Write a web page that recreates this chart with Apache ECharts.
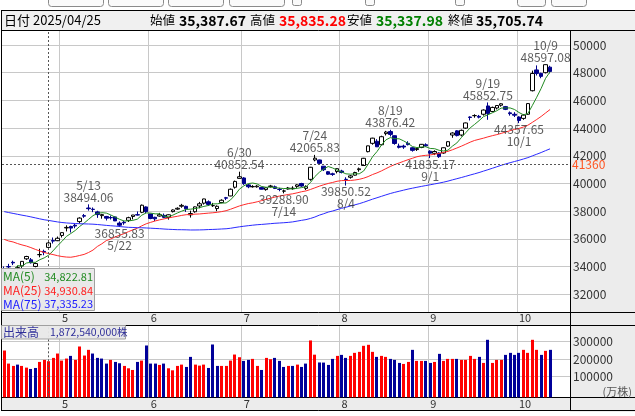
<!DOCTYPE html>
<html>
<head>
<meta charset="utf-8">
<script src="https://cdn.jsdelivr.net/npm/echarts@6.0.0/dist/echarts.min.js"></script>
<style>
html,body{margin:0;padding:0;background:#fff;}
#chart{width:635px;height:416px;}
</style>
</head>
<body>
<div id="chart"></div>
<script>
// ================= DATA (Nikkei 225 daily) =================
const dates = [
'2025/04/11','2025/04/14','2025/04/15','2025/04/16','2025/04/17','2025/04/18','2025/04/21','2025/04/22','2025/04/23','2025/04/24','2025/04/25','2025/04/28','2025/04/30',
'2025/05/01','2025/05/02','2025/05/07','2025/05/08','2025/05/09','2025/05/12','2025/05/13','2025/05/14','2025/05/15','2025/05/16','2025/05/19','2025/05/20','2025/05/21','2025/05/22','2025/05/23','2025/05/26','2025/05/27','2025/05/28','2025/05/29','2025/05/30',
'2025/06/02','2025/06/03','2025/06/04','2025/06/05','2025/06/06','2025/06/09','2025/06/10','2025/06/11','2025/06/12','2025/06/13','2025/06/16','2025/06/17','2025/06/18','2025/06/19','2025/06/20','2025/06/23','2025/06/24','2025/06/25','2025/06/26','2025/06/27','2025/06/30',
'2025/07/01','2025/07/02','2025/07/03','2025/07/04','2025/07/07','2025/07/08','2025/07/09','2025/07/10','2025/07/11','2025/07/14','2025/07/15','2025/07/16','2025/07/17','2025/07/18','2025/07/22','2025/07/23','2025/07/24','2025/07/25','2025/07/28','2025/07/29','2025/07/30','2025/07/31',
'2025/08/01','2025/08/04','2025/08/05','2025/08/06','2025/08/07','2025/08/08','2025/08/12','2025/08/13','2025/08/14','2025/08/15','2025/08/18','2025/08/19','2025/08/20','2025/08/21','2025/08/22','2025/08/25','2025/08/26','2025/08/27','2025/08/28','2025/08/29',
'2025/09/01','2025/09/02','2025/09/03','2025/09/04','2025/09/05','2025/09/08','2025/09/09','2025/09/10','2025/09/11','2025/09/12','2025/09/16','2025/09/17','2025/09/18','2025/09/19','2025/09/22','2025/09/24','2025/09/25','2025/09/26','2025/09/29','2025/09/30',
'2025/10/01','2025/10/02','2025/10/03','2025/10/06','2025/10/07','2025/10/08','2025/10/09','2025/10/10'
];
const opens = [
33610,34000,34310,33900,34050,34560,34490,34010,34860,35100,35387.67,35880,35870,
36250,36790,36900,36990,37250,37680,38230,38140,37950,37680,37620,37540,37590,37140,37200,37340,37620,37750,37920,38310,
37800,37560,37650,37700,37550,37970,38150,38360,38350,37740,37960,38380,38580,38680,38400,38190,38630,38970,39100,39730,40370,
40400,39900,39760,39760,39720,39560,39780,39760,39580,39450,39600,39630,39790,40000,39650,40300,41700,41700,41250,40850,40700,40860,
40900,40300,40450,40600,41000,41300,42300,42900,43050,42800,43600,43750,43450,42700,42700,42900,42580,42450,42600,42800,
42330,42180,42200,42200,42700,43500,43800,43500,44000,44800,44900,44850,45000,45600,45200,45450,45650,45550,45100,45000,
44800,44700,45000,46700,48200,47950,48000,48400
];
const highs = [
34010,34200,34430,34060,34400,34780,34620,34290,35290,35220,35835.28,36100,36170,
36470,36980,36950,37080,37560,37800,38494.06,38270,38030,37810,37660,37690,37620,37260,37300,37600,37730,37980,38480,38350,
37810,37600,37880,37830,37770,38130,38280,38530,38400,38040,38340,38670,38900,38780,38600,38420,38860,39030,39640,40210,40852.54,
40460,39960,39880,39880,39760,39720,39900,39850,39690,39560,39750,39800,39950,40050,39870,41200,42065.83,41720,41260,40900,40780,41090,
40990,40450,40610,40850,41150,41850,42730,43300,43200,43450,43800,43876.42,43470,42880,42800,43050,42620,42580,42850,42900,
42400,42400,42250,42600,43050,43700,43850,43900,44400,44850,45000,44950,45350,45852.75,45550,45650,45800,45600,45200,45150,
44850,45000,45800,48150,48527,48000,48597.08,48500
];
const lows = [
33050,33880,34110,33720,33905,34480,34220,33950,34670,34820,35337.98,35670,35840,
36100,36540,36460,36770,37110,37520,38040,37930,37520,37460,37330,37400,37290,36855.83,37020,37220,37410,37690,37860,37860,
37420,37290,37610,37500,37390,37910,38100,38250,37950,37540,37890,38210,38480,38380,38310,38000,38570,38800,39080,39630,40360,
39900,39660,39700,39700,39570,39480,39700,39600,39440,39288.90,39560,39550,39680,39760,39530,40200,41600,41350,40900,40630,40550,40730,
40730,39850.52,40350,40570,40850,41280,42250,42800,42640,42750,43470,43400,42800,42530,42500,42750,42300,42350,42550,42650,
41835.17,42050,41850,42150,42650,43300,43400,43400,43950,44550,44750,44700,44900,44600,45150,45350,45550,45300,44900,44800,
44357.65,44600,44950,46650,47800,47600,47950,47950
];
const closes = [
33585.58,33982.36,34267.54,33920.40,34377.60,34730.28,34279.92,34220.60,34868.63,35039.15,35705.74,35839.99,36045.38,
36452.30,36830.69,36779.66,36928.63,37503.33,37644.26,38183.26,38128.13,37755.51,37753.72,37498.63,37529.49,37298.98,36985.87,37160.47,37531.53,37724.11,37722.40,38432.98,37965.10,
37470.67,37446.81,37747.45,37554.49,37741.61,38088.57,38211.51,38421.19,38173.09,37834.25,38311.33,38536.74,38885.15,38488.34,38403.23,38354.09,38790.56,38942.07,39584.58,40150.79,40487.39,
39986.33,39762.48,39785.90,39810.88,39587.68,39688.81,39821.28,39646.36,39569.68,39459.62,39678.02,39663.40,39901.19,39819.11,39774.92,41171.32,41826.34,41456.23,40998.27,40674.55,40654.70,41069.82,
40799.60,40290.70,40549.54,40794.86,41059.15,41820.48,42718.17,43274.67,42649.26,43378.31,43714.31,43546.29,42888.55,42610.17,42633.29,42807.82,42394.40,42520.27,42828.79,42718.47,
42188.79,42310.49,41938.89,42580.27,43018.75,43643.81,43459.29,43837.67,44372.50,44768.12,44902.27,44790.38,45303.43,45045.81,45493.66,45630.31,45754.93,45354.99,45043.75,44932.63,
44550.85,44936.73,45769.50,47944.76,47950.88,47734.99,48580.44,48088.80
];
// volume, in 万株
const volumes = [
249000,173500,160000,167600,160000,150200,142400,148200,183100,194800,187254,206400,231600,
190900,202500,218000,194800,272300,220000,252900,231600,206400,202500,173500,194800,183100,175400,160000,146300,136600,183100,190900,278100,
173500,173500,165700,173500,146300,134700,160000,167600,154100,212200,167600,161800,167600,148200,283900,160000,160000,160000,190900,225800,210300,
189000,194800,200600,160000,136600,206400,198600,206400,189000,154100,160000,160000,167600,154100,173500,307200,225000,180000,179300,165700,200600,218000,
223800,206400,218000,235500,241300,276200,282000,241300,212200,218000,212200,200600,194800,177300,171500,183100,252900,189000,189000,189000,
177300,183100,229700,189000,200600,200600,200600,194800,194800,218000,200600,212200,177300,311000,177300,194800,194800,223800,235500,223800,
235500,252900,235500,311000,252900,223800,247100,252900
];
// closes of the 24 sessions before the first candle (needed for the moving averages)
const priorCloses = [
36887,36028,36793,36819,36790,37053,37396,37845,37751,37677,37608,38027,
37998,37799,37120,35617,35624,35725,34735,33780,31136,33012,31714,34609
];
// 75-day average for the sessions before a full 75-day window exists
const ma75Read = [
37970,37902,37841,37777,37714,37656,37591,37520,37448,37383,37335,37279,37226,
37184,37153,37130,37110,37096,37085,37075,37063,37038,37009,36976,36949,36926,36894,36862,36835,36825,36810,36805,36790,
36773,36755,36738,36713,36694,36680,36666,36662,36656,36643,36644,36649,36658,36675,36684,36697,36716,36732,36768,36823,36872,
36915,36954,36991,37023,37046,37072,37100,37128,37148,37168,37193,37227,37284,37340,37392,37476,37580,37714,37818,37935
];
const padSlots = ['2025/10/14','2025/10/15','2025/10/16','2025/10/17'];
const peakDates = ['2025/05/13','2025/06/30','2025/07/24','2025/08/19','2025/09/19','2025/10/09'];
const troughDates = ['2025/05/22','2025/07/14','2025/08/04','2025/09/01','2025/10/01'];
const cursorDate = '2025/04/25';
const cursorPrice = 41360;
const headerLabels = ['日付','始値','高値','安値','終値'];
const headerValues = ['2025/04/25','35,387.67','35,835.28','35,337.98','35,705.74'];
const maNames = ['MA(5)','MA(25)','MA(75)'];
const maValues = ['34,822.81','34,930.84','37,335.23'];
const volumeLabel = ['出来高','1,872,540,000株'];
const volumeUnit = '(万株)';
const volumeTicks = [100000,200000,300000];

// ================= DERIVED =================
const cats = dates.concat(padSlots);
const monthStart = new Set();
dates.forEach((d,i)=>{ if(i>0 && d.slice(5,7)!==dates[i-1].slice(5,7)) monthStart.add(i); });
const monthName = v => String(parseInt(v.slice(5,7),10));
const shortDate = d => parseInt(d.slice(5,7),10)+'/'+parseInt(d.slice(8,10),10);

const allC = priorCloses.concat(closes);
const P = priorCloses.length;
function sma(n){
  return closes.map((_,i)=>{ const k=i+P; if(k-n+1<0) return null; let s=0; for(let j=k-n+1;j<=k;j++) s+=allC[j]; return +(s/n).toFixed(2); });
}
const ma5 = sma(5), ma25 = sma(25);
const ma75 = closes.map((_,i)=>{
  if(i<ma75Read.length) return ma75Read[i];
  let s=0; for(let j=i-74;j<=i;j++) s+=closes[j]; return +(s/75).toFixed(2);
});
const candleData = dates.map((d,i)=>[opens[i],closes[i],lows[i],highs[i]]);
// bar colour: red when the close is not below the previous visible close (first bar has none -> red)
const volData = volumes.map((v,i)=>[i, v, (i===0 || closes[i] >= closes[i-1]) ? 1 : 0]);
const peakData = peakDates.map(d=>{ const i=dates.indexOf(d); return {value:[d, highs[i]], label:{formatter: shortDate(d)+'\n'+highs[i].toFixed(2)}}; });
const troughData = troughDates.map(d=>{ const i=dates.indexOf(d); return {value:[d, lows[i]], label:{formatter: lows[i].toFixed(2)+'\n'+shortDate(d)}}; });

// ================= CHART =================
const FONT = '"Noto Sans CJK JP","Noto Sans",sans-serif';
const GRID = '#c8c8c8';
const chart = echarts.init(document.getElementById('chart'), null, {renderer:'canvas'});

function txt(x,y,text,o){
  o=o||{};
  return {type:'text', x:x, y:y, z:o.z||30, silent:true,
    style:{text:text, fill:o.color||'#000', fontSize:o.size||12, fontFamily:FONT, fontWeight:o.weight||'normal',
      align:o.align||'left', verticalAlign:'middle', textAlign:o.align||'left', textVerticalAlign:'middle'}};
}
function rect(x,y,w,h,fill,stroke,z,r){
  return {type:'rect', z:z, silent:true, shape:{x:x,y:y,width:w,height:h,r:r||0}, style:{fill:fill, stroke:stroke||null, lineWidth:1}};
}
function line(x1,y1,x2,y2,color,z){
  return {type:'line', z:z, silent:true, shape:{x1:x1,y1:y1,x2:x2,y2:y2}, style:{stroke:color, lineWidth:1}};
}

const HY = 20.5; // header text centre
const graphics = [
  rect(570,31,70,381,'#ececec',null,-10),
  rect(48.5,-6,55,12.5,'#fafafa','#8a8a8a',1,3),
  rect(108.5,-6,55,12.5,'#fafafa','#8a8a8a',1,3),
  rect(168.5,-6,55,12.5,'#fafafa','#8a8a8a',1,3),
  rect(229.5,-6,55,12.5,'#fafafa','#8a8a8a',1,3),
  rect(292.5,-4,9,9.5,'#fafafa','#8a8a8a',1,2),
  rect(365.5,-4,9,9.5,'#fafafa','#8a8a8a',1,2),
  rect(455.5,-4,9,9.5,'#fafafa','#8a8a8a',1,2),
  rect(517.5,-6,28,12.5,'#fafafa','#8a8a8a',1,3),
  rect(551.5,-6,35,12.5,'#fafafa','#8a8a8a',1,3),
  rect(1.5,10.5,640,20,'#f0f0f0','#000',10),
  txt(4,HY,headerLabels[0],{size:13}),
  txt(33,HY,headerValues[0],{size:13}),
  txt(150,HY,headerLabels[1],{size:12.5}),
  txt(179,HY,headerValues[1],{size:14,weight:'bold'}),
  txt(250,HY,headerLabels[2],{size:12.5}),
  txt(279,HY,headerValues[2],{size:14,weight:'bold',color:'#ff0000'}),
  txt(347,HY,headerLabels[3],{size:12.5}),
  txt(376,HY,headerValues[3],{size:14,weight:'bold',color:'#008000'}),
  txt(448,HY,headerLabels[4],{size:12.5}),
  txt(476,HY,headerValues[4],{size:14,weight:'bold'}),
  rect(1.5,312.5,640,13,'#ececec','#000',10),
  rect(1.5,397.5,640,13,'#ececec','#000',-5),
  line(1.5,10,1.5,411,'#000',11),
  line(570.5,31,570.5,411,'#000',11),
  rect(1.5,268.5,93,42,'rgba(232,232,232,0.95)','#a0a0a0',20),
  txt(3,276.5,maNames[0],{color:'#228b22',size:12}), txt(93,276.5,maValues[0],{color:'#228b22',align:'right',size:11}),
  txt(3,290.5,maNames[1],{color:'#ff2020',size:12}), txt(93,290.5,maValues[1],{color:'#ff2020',align:'right',size:11}),
  txt(3,304,maNames[2],{color:'#2020ff',size:12}), txt(93,304,maValues[2],{color:'#2020ff',align:'right',size:11}),
  rect(1.5,325.5,124,13.5,'rgba(232,232,232,0.95)','#a0a0a0',20),
  txt(3,332.5,volumeLabel[0],{color:'#30309a',size:12}),
  txt(50,332.5,volumeLabel[1],{color:'#30309a',size:10.5}),
  txt(632,391.5,volumeUnit,{color:'#555',size:11,align:'right'})
];

const option = {
  animation:false,
  backgroundColor:'#ffffff',
  textStyle:{fontFamily:FONT},
  grid:[
    {left:2, right:65, top:17.3, height:304.7},
    {left:2, right:65, top:325.7, height:71.6}
  ],
  xAxis:[
    {type:'category', gridIndex:0, data:cats, boundaryGap:true,
     axisLine:{show:false}, axisTick:{show:false}, axisLabel:{show:false},
     splitLine:{show:true, interval:(i)=>monthStart.has(i), lineStyle:{color:GRID}}},
    {type:'category', gridIndex:1, position:'top', data:cats, boundaryGap:true, z:40,
     axisLine:{show:false}, axisTick:{show:false}, splitLine:{show:false},
     axisLabel:{interval:(i)=>monthStart.has(i), formatter:monthName, margin:2, fontSize:11, color:'#333', align:'left', fontFamily:FONT}},
    {type:'category', gridIndex:1, position:'bottom', data:cats, boundaryGap:true,
     axisLine:{show:false}, axisTick:{show:false},
     splitLine:{show:true, interval:(i)=>monthStart.has(i), lineStyle:{color:GRID}},
     axisLabel:{interval:(i)=>monthStart.has(i), formatter:monthName, margin:1, fontSize:11, color:'#333', align:'left', fontFamily:FONT}}
  ],
  yAxis:[
    {type:'value', gridIndex:0, position:'right', min:30000, max:52000, interval:2000, scale:true,
     axisLine:{show:false}, axisTick:{show:false},
     axisLabel:{margin:3, fontSize:12, color:'#333', fontFamily:FONT, formatter:(v)=> (v>=32000 && v<=50000) ? String(v) : ''},
     splitLine:{show:true, lineStyle:{color:GRID}}},
    {type:'value', gridIndex:1, position:'right', min:-21400, max:392500, splitNumber:4,
     axisLine:{show:false}, axisTick:{show:false, customValues:volumeTicks},
     axisLabel:{margin:3, fontSize:12, color:'#333', fontFamily:FONT, customValues:volumeTicks,
       formatter:(v)=> volumeTicks.indexOf(v)>=0 ? String(v) : ''},
     splitLine:{show:true, lineStyle:{color:GRID}}}
  ],
  series:[
    {type:'candlestick', xAxisIndex:0, yAxisIndex:0, data:candleData, barWidth:4,
     itemStyle:{color:'#ffffff', color0:'#00008b', borderColor:'#000000', borderColor0:'#00008b', borderWidth:1},
     markLine:{silent:true, symbol:['none','none'], animation:false,
       lineStyle:{color:'#555', width:1, type:[2,2]},
       data:[
         {xAxis:cursorDate, label:{show:false}},
         {yAxis:cursorPrice, label:{show:true, position:'end', distance:2, formatter:String(cursorPrice), color:'#ff5522', fontSize:12, fontFamily:FONT}}
       ]}},
    {type:'line', name:'MA5', xAxisIndex:0, yAxisIndex:0, data:ma5, symbol:'none', lineStyle:{color:'#228b22', width:1}, z:3},
    {type:'line', name:'MA25', xAxisIndex:0, yAxisIndex:0, data:ma25, symbol:'none', lineStyle:{color:'#ff2a2a', width:1}, z:3},
    {type:'line', name:'MA75', xAxisIndex:0, yAxisIndex:0, data:ma75, symbol:'none', lineStyle:{color:'#2a2aff', width:1}, z:3},
    {type:'scatter', xAxisIndex:0, yAxisIndex:0, data:peakData, symbolSize:0, z:4,
     label:{show:true, position:'top', distance:1, color:'#333', fontSize:12, lineHeight:12, fontFamily:FONT, align:'center'}},
    {type:'scatter', xAxisIndex:0, yAxisIndex:0, data:troughData, symbolSize:0, z:4,
     label:{show:true, position:'bottom', distance:0, color:'#333', fontSize:12, lineHeight:12, fontFamily:FONT, align:'center'}},
    {type:'custom', xAxisIndex:2, yAxisIndex:1, data:volData,
     renderItem:function(params, api){
       const pt = api.coord([api.value(0), api.value(1)]);
       const cs = params.coordSys;
       const base = cs.y + cs.height;
       const w = 3;
       return {type:'rect', shape:{x:Math.round(pt[0]-w/2), y:pt[1], width:w, height:base-pt[1]},
               style:{fill: api.value(2) ? '#ff0000' : '#000099'}};
     },
     markLine:{silent:true, symbol:['none','none'], animation:false,
       lineStyle:{color:'#555', width:1, type:[2,2]},
       data:[{xAxis:cursorDate, label:{show:false}}]}}
  ],
  graphic:{elements:graphics}
};
chart.setOption(option);
</script>
</body>
</html>
